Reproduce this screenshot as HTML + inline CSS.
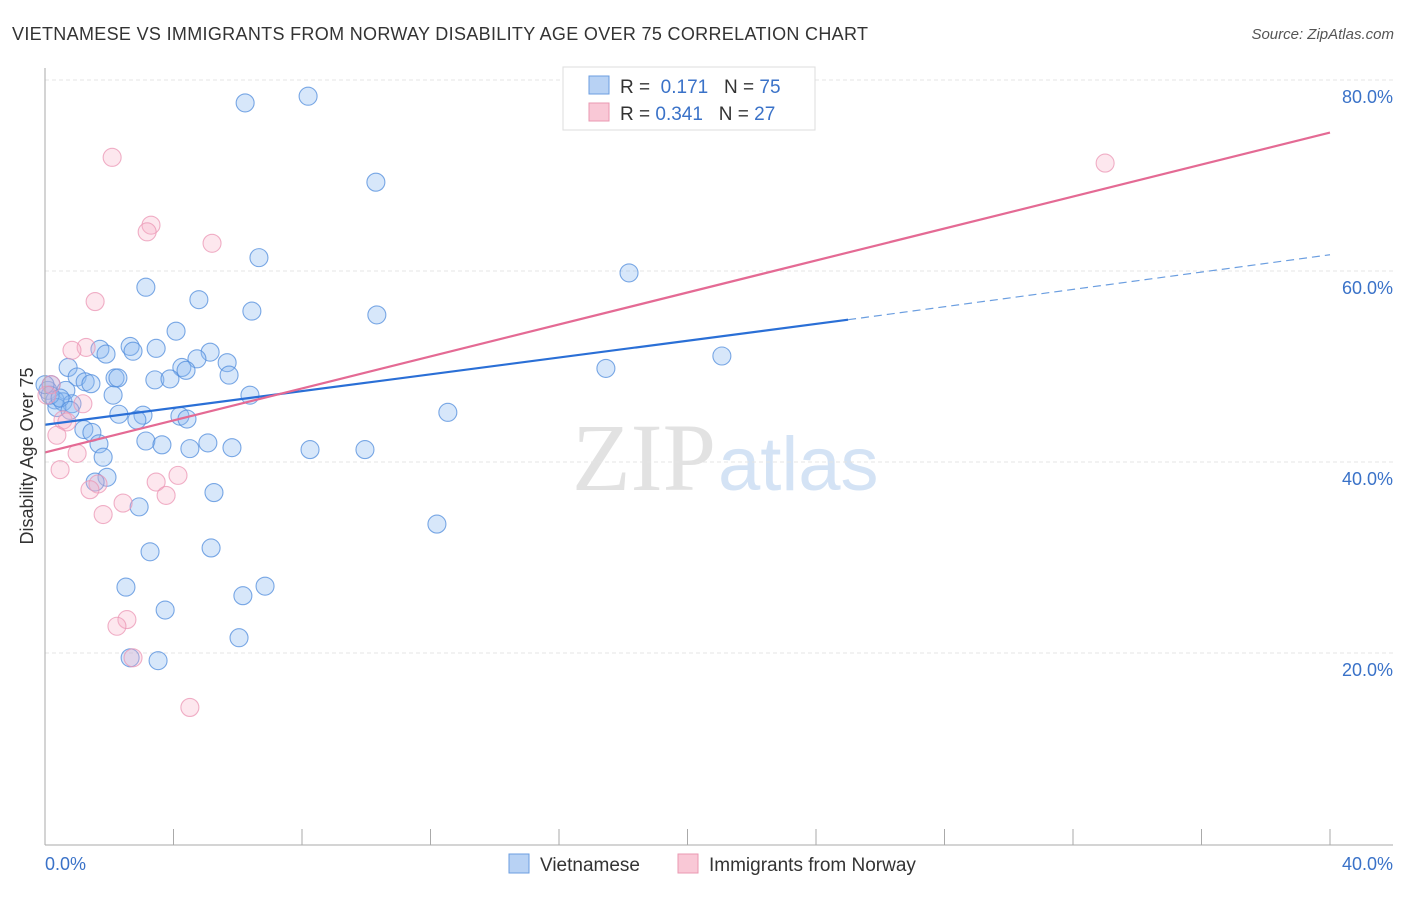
<!DOCTYPE html>
<html><head><meta charset="utf-8"><style>
body{margin:0;background:#fff;font-family:"Liberation Sans",sans-serif;}
</style></head><body>
<svg width="1406" height="892" xmlns="http://www.w3.org/2000/svg" id="svg" style="font-family:'Liberation Sans',sans-serif">
<text x="12" y="40" font-size="18" fill="#333" textLength="856">VIETNAMESE VS IMMIGRANTS FROM NORWAY DISABILITY AGE OVER 75 CORRELATION CHART</text>
<text x="1394" y="39" font-size="15" fill="#555" text-anchor="end" font-style="italic">Source: ZipAtlas.com</text>
<text x="716" y="490" font-size="96" fill="#e2e2e2" text-anchor="end" font-family="Liberation Serif">ZIP</text>
<text x="718" y="490" font-size="76" fill="#d4e3f5">atlas</text>
<g id="grid"></g>
<g id="pts"></g>
<g id="lines"></g>
<line x1="45" y1="68" x2="45" y2="845" stroke="#aaa"/>
<line x1="45" y1="845" x2="1393" y2="845" stroke="#aaa"/>
<text x="33" y="456" font-size="18" fill="#333" text-anchor="middle" transform="rotate(-90 33 456)">Disability Age Over 75</text>
<text x="45" y="870" font-size="18" fill="#3a72c8">0.0%</text>
<text x="1393" y="870" font-size="18" fill="#3a72c8" text-anchor="end">40.0%</text>
<g>
<rect x="563" y="67" width="252" height="63" fill="#fff" stroke="#ddd"/>
<rect x="589" y="76" width="20" height="18" fill="#b8d2f4" stroke="#6b9ee0"/>
<rect x="589" y="103" width="20" height="18" fill="#f9c8d6" stroke="#ea98b2"/>
<text x="620" y="93" font-size="19" fill="#333">R = <tspan fill="#3a72c8">&#160;0.171</tspan>&#160;&#160;&#160;N = <tspan fill="#3a72c8">75</tspan></text>
<text x="620" y="120" font-size="19" fill="#333">R = <tspan fill="#3a72c8">0.341</tspan>&#160;&#160;&#160;N = <tspan fill="#3a72c8">27</tspan></text>
</g>
<g>
<rect x="509" y="854" width="20" height="19" fill="#b8d2f4" stroke="#6b9ee0"/>
<text x="540" y="871" font-size="19" fill="#333">Vietnamese</text>
<rect x="678" y="854" width="20" height="19" fill="#f9c8d6" stroke="#ea98b2"/>
<text x="709" y="871" font-size="19" fill="#333">Immigrants from Norway</text>
</g>
</svg>
<script>
const yTicks=[20,40,60,80];
const yTickLabels=["20.0%","40.0%","60.0%","80.0%"];
const xTicks=[4,8,12,16,20,24,28,32,36,40];
const blueX=[6.23,8.19,10.30,6.66,18.18,3.14,4.79,6.44,10.33,4.08,2.65,3.46,1.71,2.74,1.90,5.14,4.73,4.26,5.67,0.72,4.39,21.07,17.46,5.73,1.00,2.18,2.27,3.42,3.89,1.25,1.43,0.19,0.09,0.65,2.12,6.38,0.31,0.56,0.84,0.37,4.20,4.42,2.30,3.05,2.86,12.54,1.21,1.46,3.14,3.64,5.07,4.51,5.82,8.25,9.96,1.68,1.81,1.93,1.56,5.26,2.93,12.20,3.27,5.17,2.52,6.85,6.16,3.74,6.04,2.65,3.52,0.16,0.47,0.0,0.78];
const blueY=[77.6,78.3,69.3,61.4,59.8,58.3,57.0,55.8,55.4,53.7,52.1,51.9,51.8,51.6,51.3,51.5,50.8,49.9,50.4,49.9,49.6,51.1,49.8,49.1,48.9,48.8,48.8,48.6,48.7,48.4,48.2,48.1,47.5,47.5,47.0,47.0,46.5,46.3,46.1,45.7,44.8,44.5,45.0,44.9,44.4,45.2,43.4,43.1,42.2,41.8,42.0,41.4,41.5,41.3,41.3,41.9,40.5,38.4,37.9,36.8,35.3,33.5,30.6,31.0,26.9,27.0,26.0,24.5,21.6,19.5,19.2,47.0,46.7,48.1,45.4];
const pinkX=[2.09,3.30,3.18,5.20,1.56,1.28,0.84,0.19,0.06,1.18,0.56,0.68,0.37,1.00,0.47,4.14,3.46,1.65,1.40,3.77,2.43,1.81,2.55,2.24,2.74,4.51,33.00];
const pinkY=[71.9,64.8,64.1,62.9,56.8,52.0,51.7,48.1,47.0,46.1,44.4,44.2,42.8,40.9,39.2,38.6,37.9,37.7,37.1,36.5,35.7,34.5,23.5,22.8,19.5,14.3,71.3];
const blueTrend=[43.9,54.9,61.7];
const blueTrendX=[0,25,40];
const pinkTrend=[41.0,74.5];
const pinkTrendX=[0,40];
const X=v=>45+v*32.125, Y=v=>844-v*9.55;
const NS="http://www.w3.org/2000/svg";
function mk(t,a,p){const e=document.createElementNS(NS,t);for(const k in a)e.setAttribute(k,a[k]);p.appendChild(e);return e;}
const grid=document.getElementById('grid'),pts=document.getElementById('pts'),lines=document.getElementById('lines');
yTicks.forEach((t,i)=>{
 const l=mk('line',{x1:45,x2:1393,y1:Y(t),y2:Y(t),stroke:'#e4e4e4','stroke-dasharray':'4,3'},grid);
 
 
 const tx=mk('text',{x:1393,y:Y(t)+23,'font-size':18,fill:'#3a72c8','text-anchor':'end'},grid);
 tx.textContent=yTickLabels[i];
 
 
});
xTicks.forEach(t=>{
 const l=mk('line',{x1:X(t),x2:X(t),y1:829,y2:845,stroke:'#aaa'},grid);
 
 
});
blueX.forEach((x,i)=>{
 const c=mk('circle',{cx:X(x),cy:Y(blueY[i]),r:9,fill:'rgba(140,185,240,0.35)',stroke:'rgba(80,140,220,0.75)','stroke-width':1.1},pts);
 
 
});
pinkX.forEach((x,i)=>{
 const c=mk('circle',{cx:X(x),cy:Y(pinkY[i]),r:9,fill:'rgba(248,175,200,0.3)',stroke:'rgba(235,150,180,0.75)','stroke-width':1.1},pts);
 
 
});
let l1=mk('line',{x1:X(blueTrendX[0]),y1:Y(blueTrend[0]),x2:X(blueTrendX[1]),y2:Y(blueTrend[1]),stroke:'#2a6fd6','stroke-width':2.2},lines);


let l2=mk('line',{x1:X(blueTrendX[1]),y1:Y(blueTrend[1]),x2:X(blueTrendX[2]),y2:Y(blueTrend[2]),stroke:'#6b9ee0','stroke-width':1.2,'stroke-dasharray':'8,5'},lines);


let l3=mk('line',{x1:X(pinkTrendX[0]),y1:Y(pinkTrend[0]),x2:X(pinkTrendX[1]),y2:Y(pinkTrend[1]),stroke:'#e46a94','stroke-width':2.2},lines);


</script>
</body></html>
